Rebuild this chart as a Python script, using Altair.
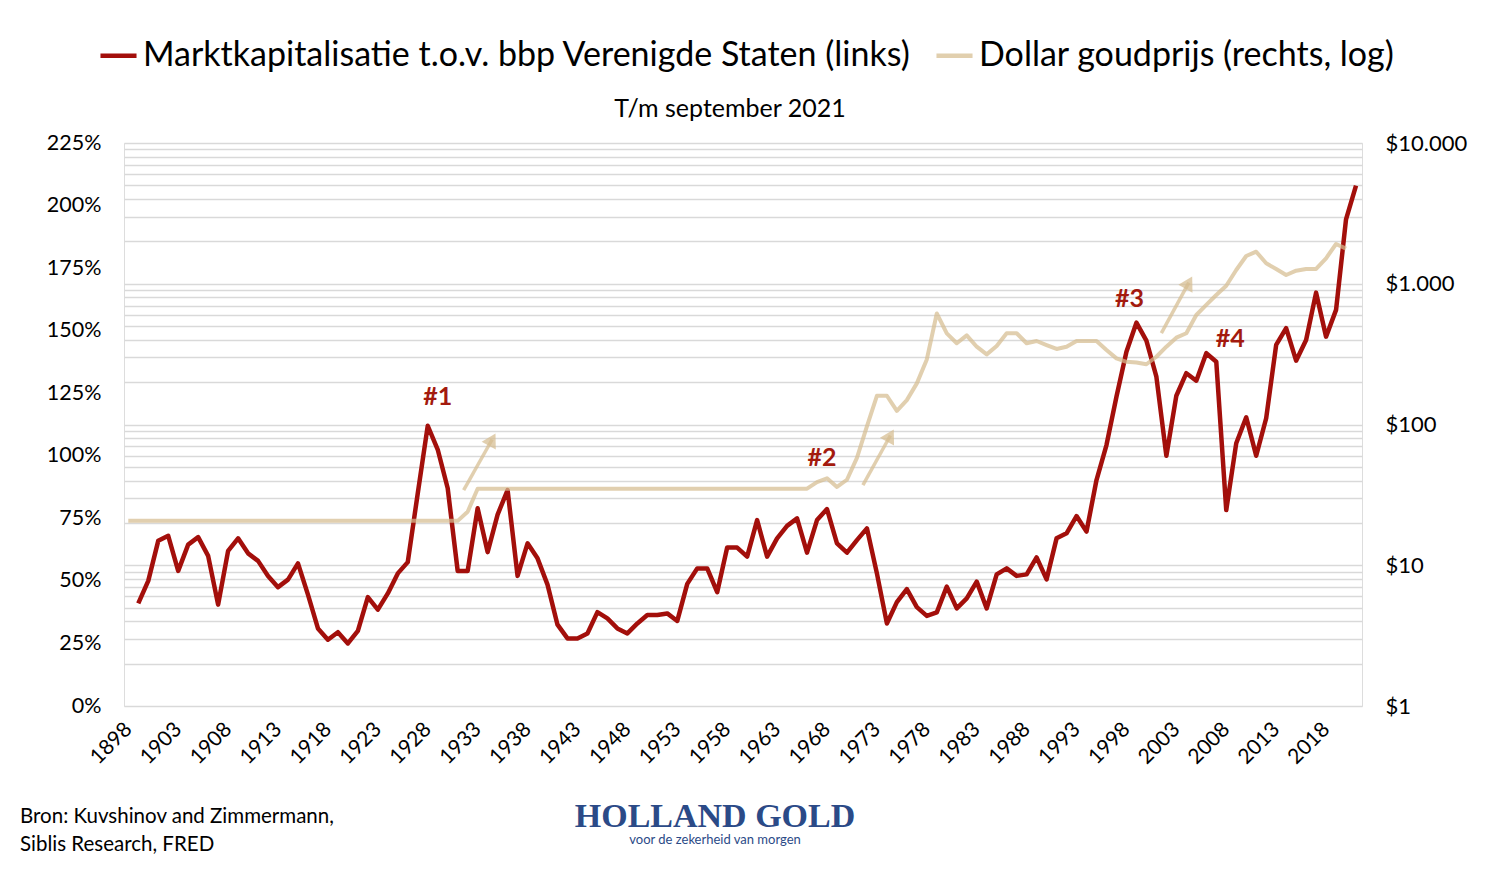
import altair as alt
import pandas as pd

# ---------------- data ----------------
red_years = list(range(1899, 2022))
mcap_pct = [
    41, 50, 66, 68, 54, 64.5, 67.5, 60, 40.5, 62,          # 1899-1908
    67, 61, 58, 52, 47.5, 50.5, 57, 44.5, 31, 26.5,        # 1909-1918
    29.5, 25, 30, 43.5, 38.5, 45, 53, 57.5, 85, 112,       # 1919-1928
    102.5, 87, 54, 54, 79, 61.5, 76.5, 86.3, 52, 65,       # 1929-1938
    59, 48.5, 32.5, 27, 27, 29, 37.5, 35, 31, 29,          # 1939-1948
    33, 36.4, 36.4, 37, 34, 48.8, 55, 55, 45.5, 63.3,      # 1949-1958
    63.3, 59.7, 74.3, 59.7, 67, 72, 75, 61.3, 74.3, 78.7,  # 1959-1968
    65, 61.3, 66.3, 71, 53, 33, 41.5, 46.7, 39.5, 36,      # 1969-1978
    37.4, 47.7, 39, 43, 49.7, 39, 52.6, 55, 52, 52.6,      # 1979-1988
    59.4, 50.6, 67, 69, 75.9, 69.7, 90.3, 104.3, 123.6, 141.6,  # 1989-1998
    153.2, 146, 131.6, 100, 124, 133, 130, 141, 137.6, 78.3,    # 1999-2008
    105, 115.4, 100, 115, 144.3, 151, 138, 146.3, 165.2, 147.6, # 2009-2018
    158.3, 194.5, 208,                                           # 2019-2021
]

gold_years = list(range(1898, 2021))
gold_usd = (
    [20.67] * 34            # 1898-1931
    + [24]                  # 1932
    + [35] * 34             # 1933-1966
    + [39, 41.5, 36, 40.5, 58, 97, 160, 160, 125, 149,       # 1967-1976
       196, 290, 615, 444, 378, 430, 357, 315, 361, 445,     # 1977-1986
       445, 378, 392, 367, 344, 357, 392, 392, 392, 338,     # 1987-1996
       295, 279, 276, 268, 303, 357, 414, 445, 600, 707,     # 1997-2006
       832, 968, 1252, 1575, 1689, 1397, 1274, 1154, 1238, 1274,  # 2007-2016
       1274, 1517, 1916, 1775]                                # 2017-2020
)

S_RED = "Marktkapitalisatie t.o.v. bbp Verenigde Staten (links)"
S_GOLD = "Dollar goudprijs (rechts, log)"

# annotations (left-axis data coordinates)
lab_text = ["#1", "#2", "#3", "#4"]
lab_year = [1929.0, 1967.5, 1998.3, 2008.4]
lab_pct = [123.5, 99.1, 162.7, 146.7]

arr_year0 = [1931.6, 1971.6, 2001.5]
arr_pct0 = [86.3, 88.3, 149.0]
arr_year1 = [1934.45, 1974.35, 2004.25]
arr_pct1 = [106.5, 108.1, 169.2]

x_ticks = list(range(1898, 2019, 5))
left_ticks = [0, 0.25, 0.5, 0.75, 1.0, 1.25, 1.5, 1.75, 2.0, 2.25]
right_grid = [m * 10 ** e for e in range(0, 4) for m in range(1, 10)] + [10000]

subtitle_text = "T/m september 2021"
source_text = "Bron: Kuvshinov and Zimmermann,\nSiblis Research, FRED"
logo_text = "HOLLAND GOLD"
tagline_text = "voor de zekerheid van morgen"

RED = "#a30f0b"
GOLD = "#d6bd90"
FONT = "Lato"

W, H = 1238, 563

red_df = pd.DataFrame({"year": red_years, "v": [p / 100 for p in mcap_pct], "series": S_RED})
gold_df = pd.DataFrame({"year": gold_years, "v": gold_usd, "series": S_GOLD})
lab_df = pd.DataFrame({"year": lab_year, "v": [p / 100 for p in lab_pct], "t": lab_text})
arr_df = pd.DataFrame({
    "y0": arr_year0, "v0": [p / 100 for p in arr_pct0],
    "y1": arr_year1, "v1": [p / 100 for p in arr_pct1],
})

xscale = alt.Scale(domain=[1897.57, 2021.6], nice=False, zero=False)
xaxis = alt.Axis(values=x_ticks, format="d", labelAngle=-45, labelAlign="right",
                 labelBaseline="middle", labelPadding=20, labelFontSize=21,
                 ticks=False, domain=False, grid=False, title=None,
                 labelFont=FONT, labelColor="#000")
lscale = alt.Scale(domain=[0, 2.25], nice=False, zero=True)
laxis = alt.Axis(values=left_ticks, format=".0%", grid=False, ticks=False, domain=False,
                 labelFontSize=21.5, labelPadding=23, title=None, labelFont=FONT,
                 labelColor="#000", orient="left")

col_scale = alt.Scale(domain=[S_RED, S_GOLD], range=[RED, GOLD])
op_scale = alt.Scale(domain=[S_RED, S_GOLD], range=[1, 0.72])
leg = alt.Legend(title=None, orient="none", legendX=-26, legendY=-108,
                 direction="horizontal", labelFontSize=34, labelFont=FONT,
                 labelColor="#000", symbolType="stroke", symbolSize=1300,
                 symbolStrokeWidth=4.5, labelLimit=1300, columnPadding=16,
                 labelOffset=4)

red_line = alt.Chart(red_df).mark_line(strokeWidth=4.5, strokeJoin="round").encode(
    x=alt.X("year:Q", scale=xscale, axis=xaxis),
    y=alt.Y("v:Q", scale=lscale, axis=laxis),
    color=alt.Color("series:N", scale=col_scale, legend=leg),
    opacity=alt.Opacity("series:N", scale=op_scale, legend=leg),
)

arrows = alt.Chart(arr_df).mark_rule(strokeWidth=3.5, color=GOLD, opacity=0.72).encode(
    x=alt.X("y0:Q", scale=xscale), y=alt.Y("v0:Q", scale=lscale),
    x2="y1:Q", y2="v1:Q",
)
heads = alt.Chart(arr_df).mark_point(shape="triangle-up", filled=True, size=260,
                                     color=GOLD, opacity=0.72, angle=29).encode(
    x=alt.X("y1:Q", scale=xscale), y=alt.Y("v1:Q", scale=lscale),
)
labels = alt.Chart(lab_df).mark_text(font=FONT, fontSize=25, fontWeight="bold",
                                     color="#a31a0e").encode(
    x=alt.X("year:Q", scale=xscale), y=alt.Y("v:Q", scale=lscale), text="t:N",
)

left = alt.layer(red_line, arrows, heads, labels)

raxis = alt.Axis(values=right_grid, orient="right", grid=True, gridColor="#d9d9d9",
                 gridWidth=1.5, ticks=False, domain=False, labelFontSize=22,
                 labelPadding=23, title=None, labelFont=FONT, labelColor="#000",
                 labelExpr="indexof([1,10,100,1000,10000], datum.value) >= 0 ? '$' + replace(format(datum.value, ','), ',', '.') : ''")
gold_line = alt.Chart(gold_df).mark_line(strokeWidth=4, strokeJoin="round").encode(
    x=alt.X("year:Q", scale=xscale, axis=xaxis),
    y=alt.Y("v:Q", scale=alt.Scale(type="log", domain=[1, 10000], nice=False), axis=raxis),
    color=alt.Color("series:N", scale=col_scale, legend=leg),
    opacity=alt.Opacity("series:N", scale=op_scale, legend=leg),
)

subtitle = alt.Chart(pd.DataFrame({"t": [subtitle_text]})).mark_text(
    font=FONT, fontSize=25, color="#000", align="center", baseline="middle").encode(
    x=alt.value(606), y=alt.value(-34), text="t:N")

source = alt.Chart(pd.DataFrame({"t": [source_text]})).mark_text(
    font=FONT, fontSize=20.5, color="#000", align="left", baseline="middle",
    lineBreak="\n", lineHeight=28).encode(
    x=alt.value(-104), y=alt.value(674), text="t:N")

logo = alt.Chart(pd.DataFrame({"t": [logo_text]})).mark_text(
    font="Liberation Serif", fontSize=34, fontWeight="bold",
    color="#2b4a87", align="center", baseline="middle").encode(
    x=alt.value(591), y=alt.value(674), text="t:N")
tag = alt.Chart(pd.DataFrame({"t": [tagline_text]})).mark_text(
    font=FONT, fontSize=13, color="#2b4a87", align="center", baseline="middle").encode(
    x=alt.value(591), y=alt.value(697), text="t:N")

chart = alt.layer(left, gold_line, subtitle, source, logo, tag).resolve_scale(
    y="independent"
).properties(
    width=W, height=H,
    autosize=alt.AutoSizeParams(type="none"),
    padding={"left": 116, "top": 135, "right": 130, "bottom": 150},
).configure_view(stroke=None).configure(font=FONT, background="white")

chart.save("out.html", embed_options={"renderer": "svg", "actions": False})
